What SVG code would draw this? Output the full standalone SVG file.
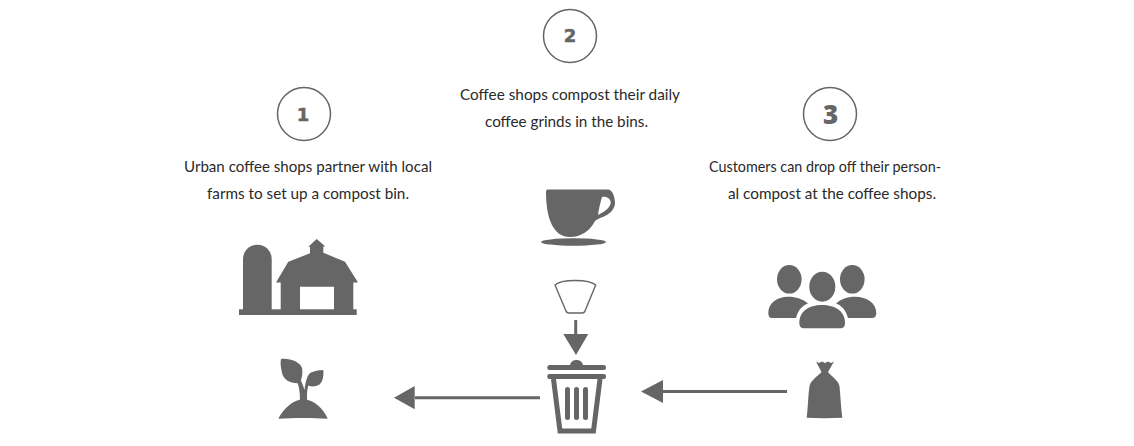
<svg xmlns="http://www.w3.org/2000/svg" width="1134" height="446" viewBox="0 0 1134 446">
<style>
.t{font-family:"Lato","Open Sans","Liberation Sans",sans-serif;font-size:15px;fill:#2a2a2a;}
.n{font-family:"DejaVu Sans",sans-serif;font-weight:700;font-size:18px;fill:#666;stroke:#666;stroke-width:.5;text-anchor:middle;}
.c{fill:#fff;stroke:#666;stroke-width:1.5;}
.i{fill:#666;}
.l{stroke:#666;stroke-width:3;fill:none;}
</style>
<rect width="1134" height="446" fill="#fff"/>
<g id="step1">
<circle class="c" cx="304" cy="114" r="26.5"/>
<text class="n" x="303" y="121">1</text>
<text class="t" x="184" y="172" textLength="248" lengthAdjust="spacingAndGlyphs">Urban coffee shops partner with local</text>
<text class="t" x="207" y="199" textLength="202" lengthAdjust="spacingAndGlyphs">farms to set up a compost bin.</text>
</g>
<g id="step2">
<circle class="c" cx="570" cy="36" r="26.5"/>
<text class="n" x="570" y="42">2</text>
<text class="t" x="460" y="100" textLength="220" lengthAdjust="spacingAndGlyphs">Coffee shops compost their daily</text>
<text class="t" x="485" y="127" textLength="163" lengthAdjust="spacingAndGlyphs">coffee grinds in the bins.</text>
</g>
<g id="step3">
<circle class="c" cx="830" cy="114" r="26.5"/>
<text class="n" x="830.500" y="124" style="font-family:'Open Sans',sans-serif;font-size:26px;font-weight:800;stroke:none">3</text>
<text class="t" x="709" y="172" textLength="232" lengthAdjust="spacingAndGlyphs">Customers can drop off their person-</text>
<text class="t" x="728" y="199" textLength="208" lengthAdjust="spacingAndGlyphs">al compost at the coffee shops.</text>
</g>
<g id="barn">
<path class="i" d="M243 310V259a14.300 14.300 0 0 1 28.700 0V310Z"/>
<rect class="i" x="239" y="309.300" width="117.700" height="5.700"/>
<path class="i" fill-rule="evenodd" d="M276 282.500L288.300 261.700L310 253.300V246.700H308.300L316.700 239L325.300 246.500H323.300V252.700L345 261.700L358 282.500H353.300V310H280.700V282.500ZM300 286.700V310H334V286.700Z"/>
</g>
<g id="sprout">
<path class="i" d="M278.300 418.700C284 408 293 400 303.300 399C314 400 323 408 327.700 418.700C312 417.700 294 417.700 278.300 418.700Z"/>
<path class="i" d="M300 400C300 392 299 384 295 376L298 375C301 380 303 385 304.500 390C305 385 306 380 308 376L311 378C307 386 307 393 307 400Z"/>
<path class="i" d="M281 359C290 358 300 362 302 368C303 373 302 378 300 383C292 384 284 381 282 373C281 368 280 363 281 359Z"/>
<path class="i" d="M323.300 370C324 378 322 385 316 386C312 387 309 386 307 385C306 380 307 376 310 373C314 371 319 370 323.300 370Z"/>
</g>
<g id="cup">
<path class="i" fill-rule="evenodd" d="M548 189.500H608C612 189.500 615 196 615 203C615 210 608 215 603 217C600 218 597 219 595 221C590 231 581 237 570 237C553 237 546 218 546 192C546 190 547 189.500 548 189.500ZM602 197C606 196 610.700 198 610.700 203C610 208 604 212 598 215C599 208 600.500 202 602 197Z"/>
<ellipse class="i" cx="573.500" cy="242" rx="32.500" ry="3.700"/>
</g>
<g id="filter">
<path fill="none" stroke="#666" stroke-width="1.400" stroke-linejoin="round" d="M555 285C561 279 589 279 595.700 285L585 311Q584.500 313 582 313H569Q566.500 313 566 311Z"/>
</g>
<g id="bin">
<rect class="i" x="547.300" y="365" width="58.700" height="5" rx="2.500"/>
<path class="i" d="M570 365C571 361 574 360 576.500 360C579 360 582 361 583 365Z"/>
<rect class="i" x="547.300" y="374" width="58.700" height="5" rx="2"/>
<path fill="none" stroke="#666" stroke-width="5" d="M553.500 379L560 431H593.500L600 379"/>
<rect class="i" x="565" y="387" width="5" height="33" rx="2.500"/>
<rect class="i" x="574" y="387" width="5" height="33" rx="2.500"/>
<rect class="i" x="583" y="387" width="5" height="33" rx="2.500"/>
</g>
<g id="people">
<ellipse class="i" cx="789.300" cy="279.300" rx="12.300" ry="14.300"/>
<ellipse class="i" cx="852.300" cy="279.300" rx="12.300" ry="14.300"/>
<path class="i" d="M768.300 313C768.300 303 777 296.700 788 296.700C796 296.700 803 299 808 303.500C803 305 798 310 796 318H772C769.500 318 768.300 316 768.300 313Z"/>
<path class="i" d="M876.300 313C876.300 303 867 296.700 855 296.700C847 296.700 841 299 836 303.500C841 305 846 310 848 318H872C875 318 876.300 316 876.300 313Z"/>
<ellipse class="i" cx="822.300" cy="286.700" rx="13" ry="15"/>
<path class="i" d="M799.300 323C799.300 311 809 305 822 305C835 305 845 311 845 323C845 326.500 843.500 328.300 840 328.300H804C801 328.300 799.300 326.500 799.300 323Z"/>
</g>
<g id="bag">
<path class="i" d="M816 361.500L819 363L822 361.500L825 363L828 361.500L831 363L834 361.500L828 372C831 376 838 380 839.500 386C840.500 397 841 408 842.300 417.700C830 418.300 818 418.300 806.700 417.700C808 408 808 396 809.500 386C811 380 818 376 821.500 372Z"/>
</g>
<g id="connectors">
<path class="l" d="M415 397.700H540"/>
<path class="i" d="M394 397.700L414.700 386V409.300Z"/>
<path class="l" d="M662 391.500H787"/>
<path class="i" d="M641 391.500L663 380V403Z"/>
<path class="l" d="M575.700 320V336"/>
<path class="i" d="M563.300 334H588.300L576 355Z"/>
</g>
</svg>
